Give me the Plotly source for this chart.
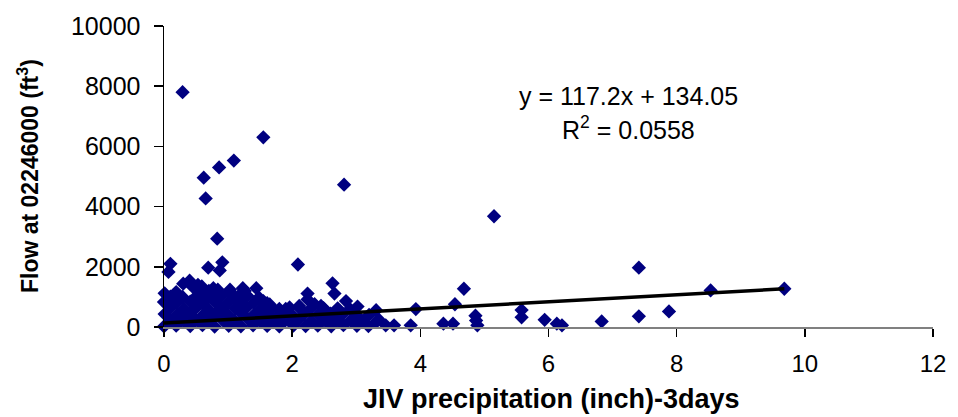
import plotly.graph_objects as go

# ---- data (precipitation in inches, flow in ft^3) ----
precip = [
    # dense band near zero flow
    0.00, 0.19, 0.41, 0.60, 0.79, 1.01, 1.20, 1.39, 1.61, 1.80, 2.02, 2.21, 2.40, 2.61, 2.80, 3.01, 3.19,
    0.10, 0.30, 0.49, 0.70, 0.91, 1.10, 1.31, 1.50, 1.70, 1.89, 2.10, 2.30, 2.51, 2.70, 2.91, 3.10, 3.31,
    0.01, 0.20, 0.39, 0.61, 0.80, 0.99, 1.21, 1.40, 1.59, 1.81, 2.00, 2.19, 2.41, 2.60, 2.79, 3.00,
    0.09, 0.31, 0.50, 0.69, 0.90, 1.11, 1.29, 1.51, 1.69, 1.90, 2.11, 2.29, 2.49, 2.71, 2.90,
    0.00, 0.20, 0.41, 0.59, 0.80, 1.00, 1.19, 1.40, 1.61,
    0.10, 0.29, 0.51, 0.70, 0.89, 1.10, 1.30, 1.48,
    0.01, 0.19, 0.62, 0.81, 1.02, 1.21,
    # upper edge of the cluster
    0.40, 0.30, 0.53, 0.45, 0.59, 0.77, 0.70, 0.84, 1.03, 1.23, 1.44, 1.26,
    1.55, 1.65, 1.80, 1.96, 2.11, 2.24, 2.24, 2.35, 2.45, 2.63, 2.66, 2.84,
    3.02, 3.31, 3.46, 3.20, 3.35,
    # isolated high flows
    0.10, 0.07, 0.69, 0.91, 0.87, 0.29, 1.55, 1.09, 0.86, 0.62, 0.65, 0.83, 2.81, 2.09,
    # larger precipitation events
    3.59, 3.85, 3.93, 4.36, 4.51, 4.54, 4.68, 4.86, 4.87, 4.89, 5.15, 5.58, 5.58,
    5.94, 6.13, 6.21, 6.83, 7.41, 7.41, 7.88, 8.53, 9.68,
]
flow = [
    20, 45, 30, 60, 15, 40, 25, 55, 35, 20, 50, 30, 45, 25, 60, 40, 30,
    230, 210, 250, 200, 240, 220, 260, 205, 235, 215, 245, 200, 230, 250, 210, 190, 170,
    430, 410, 440, 400, 425, 415, 445, 405, 420, 435, 400, 430, 410, 440, 420, 400,
    630, 610, 640, 600, 625, 615, 645, 605, 620, 600, 640, 610, 630, 620, 600,
    830, 810, 840, 800, 825, 815, 845, 805, 790,
    1010, 1000, 1030, 990, 1020, 1005, 1040, 980,
    1120, 1160, 1150, 1140, 1180, 1130,
    1540, 1440, 1400, 1330, 1345, 1290, 1200, 1240, 1240, 1290, 1290, 1200,
    860, 750, 600, 650, 700, 1110, 915, 755, 700, 1450, 1110, 860,
    680, 560, 55, 400, 250,
    2100, 1830, 1970, 2150, 1880, 7800, 6300, 5530, 5300, 4960, 4270, 2935, 4730, 2077,
    55, 55, 594, 110, 110, 755, 1270, 377, 216, 55, 3680, 561, 323,
    238, 110, 55, 184, 1970, 355, 516, 1216, 1271,
]

trend_slope = 117.2
trend_intercept = 134.05
equation_text = "y = 117.2x + 134.05"
r2_text = "R<sup>2</sup> = 0.0558"

x_title = "JIV precipitation (inch)-3days"
y_title = "Flow at 02246000 (ft<sup>3</sup>)"

x_range = [0, 12]
y_range = [0, 10000]

FONT = "Liberation Sans, Arial, sans-serif"

trend_x = [min(precip), max(precip)]
trend_y = [trend_slope * v + trend_intercept for v in trend_x]

fig = go.Figure()
fig.add_trace(go.Scatter(
    x=precip, y=flow, mode="markers",
    marker=dict(symbol="diamond", size=11, color="#000080", line=dict(width=0)),
    cliponaxis=False, showlegend=False, hoverinfo="skip",
))
fig.add_trace(go.Scatter(
    x=trend_x, y=trend_y, mode="lines",
    line=dict(color="black", width=3.5),
    cliponaxis=False, showlegend=False, hoverinfo="skip",
))

W, H = 958, 417
ML, MR, MT, MB = 164, 22, 17, 90
pw, ph = W - ML - MR, H - MT - MB

def px_x(p):
    return (p - ML) / pw

def px_y(p):
    return (H - MB - p) / ph

fig.update_layout(
    width=W, height=H,
    margin=dict(l=ML, r=MR, t=MT, b=MB, pad=0),
    paper_bgcolor="white", plot_bgcolor="white",
    font=dict(family=FONT, color="black", size=23),
    xaxis=dict(
        range=x_range, dtick=2, tick0=0,
        showgrid=False, zeroline=False,
        showline=True, linecolor="#808080", linewidth=2,
        ticks="outside", ticklen=8, tickwidth=1.5, tickcolor="black",
        ticklabelstandoff=6,
        tickfont=dict(family=FONT, size=24, color="black"),
    ),
    yaxis=dict(
        range=y_range, dtick=2000, tick0=0, tickformat="d",
        showgrid=False, zeroline=False,
        showline=True, linecolor="black", linewidth=1.5,
        ticks="outside", ticklen=9, tickwidth=1.5, tickcolor="black",
        ticklabelstandoff=8,
        tickfont=dict(family=FONT, size=25, color="black"),
    ),
    annotations=[
        dict(text="<b>" + x_title + "</b>", xref="paper", yref="paper",
             x=px_x(553), y=px_y(401), xanchor="center", yanchor="middle",
             showarrow=False, font=dict(family=FONT, size=27, color="black")),
        dict(text="<b>" + y_title + "</b>", xref="paper", yref="paper",
             x=px_x(27), y=px_y(172), xanchor="center", yanchor="middle",
             textangle=-90, showarrow=False,
             font=dict(family=FONT, size=23, color="black")),
        dict(text=equation_text, xref="paper", yref="paper",
             x=px_x(630), y=px_y(89), xanchor="center", yanchor="middle",
             showarrow=False, font=dict(family=FONT, size=25, color="black")),
        dict(text=r2_text, xref="paper", yref="paper",
             x=px_x(630), y=px_y(122), xanchor="center", yanchor="middle",
             showarrow=False, font=dict(family=FONT, size=25, color="black")),
    ],
)

fig.write_html(
    "out.html",
    config={"displayModeBar": False, "staticPlot": True},
    post_script="document.body.style.margin='0';document.body.style.padding='0';",
)
